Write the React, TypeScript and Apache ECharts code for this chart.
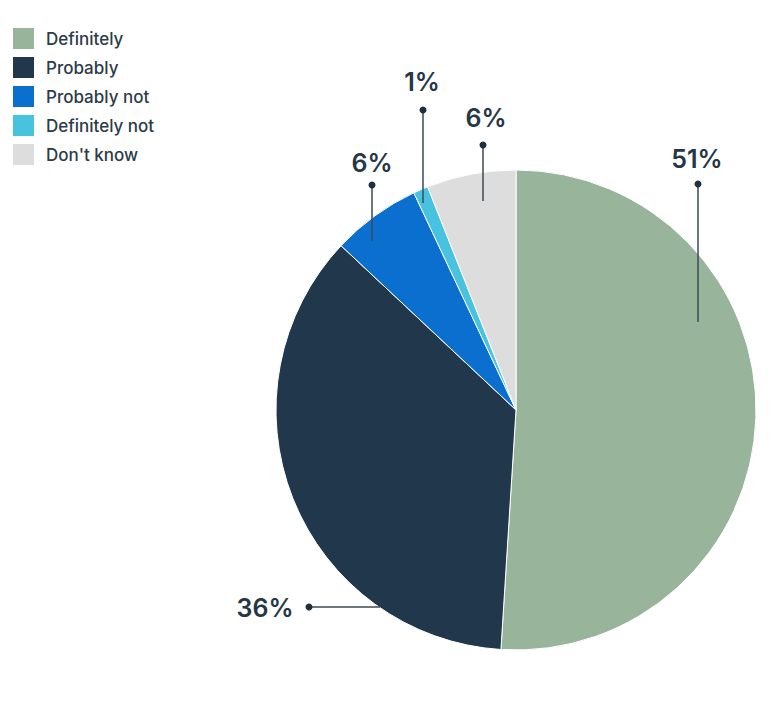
import React, { useEffect, useRef } from "react";
import * as echarts from "echarts";

const categories = ["Definitely", "Probably", "Probably not", "Definitely not", "Don't know"];
const values = [51, 36, 6, 1, 6];
const colors = ["#98b49a", "#21374b", "#0b6fd0", "#47c3e0", "#dddddd"];

// label anchor layout (pixels inside the chart div): label centre, dot, line end
const LABEL_LAYOUT = [
  { label: [689, 151], dot: [690, 176], end: [690, 314] },
  { label: [257, 600], dot: [301, 599], end: [372, 599] },
  { label: [364, 155], dot: [364, 177], end: [364, 233] },
  { label: [414, 74], dot: [415, 102], end: [415, 195] },
  { label: [478, 110], dot: [475, 137], end: [475, 193] },
];

const TEXT = "#253746";

export default function App() {
  const ref = useRef<HTMLDivElement>(null);
  useEffect(() => {
    if (!ref.current) return;
    const chart = echarts.init(ref.current, undefined, { renderer: "svg" });
    const guides: any[] = [];
    LABEL_LAYOUT.forEach((l) => {
      guides.push({
        type: "line",
        shape: { x1: l.end[0], y1: l.end[1], x2: l.dot[0], y2: l.dot[1] },
        style: { stroke: "#3a4a57", lineWidth: 1.5 },
        z: 100,
      });
      guides.push({
        type: "circle",
        shape: { cx: l.dot[0], cy: l.dot[1], r: 3.5 },
        style: { fill: "#1e2f3d" },
        z: 101,
      });
    });
    chart.setOption({
      animation: false,
      backgroundColor: "#ffffff",
      color: colors,
      legend: {
        orient: "vertical",
        left: 3,
        top: 18,
        padding: 0,
        icon: "rect",
        itemWidth: 23,
        itemHeight: 23,
        itemGap: 4,
        selectedMode: false,
        textStyle: {
          fontFamily: "Inter, 'Noto Sans', sans-serif",
          fontSize: 17,
          lineHeight: 18,
          fontWeight: 500,
          color: "#2b3b48",
          padding: [0, 0, 0, 6],
        },
        data: categories,
      },
      graphic: guides,
      series: [
        {
          type: "pie",
          center: [508, 402],
          radius: 240,
          startAngle: 90,
          clockwise: true,
          avoidLabelOverlap: false,
          itemStyle: { borderColor: "#ffffff", borderWidth: 1 },
          emphasis: { disabled: true },
          label: {
            show: true,
            position: "outside",
            formatter: "{c}%",
            fontFamily: "Inter, 'Noto Sans', sans-serif",
            fontSize: 25,
            fontWeight: 600,
            color: TEXT,
          },
          labelLine: { show: false },
          labelLayout: (params: any) => {
            const L = LABEL_LAYOUT[params.dataIndex];
            return {
              x: L.label[0],
              y: L.label[1],
              align: "center",
              verticalAlign: "middle",
            };
          },
          data: categories.map((name, i) => ({ name, value: values[i] })),
        },
      ],
    });
    return () => chart.dispose();
  }, []);
  return <div ref={ref} style={{ width: 775, height: 696 }} />;
}
